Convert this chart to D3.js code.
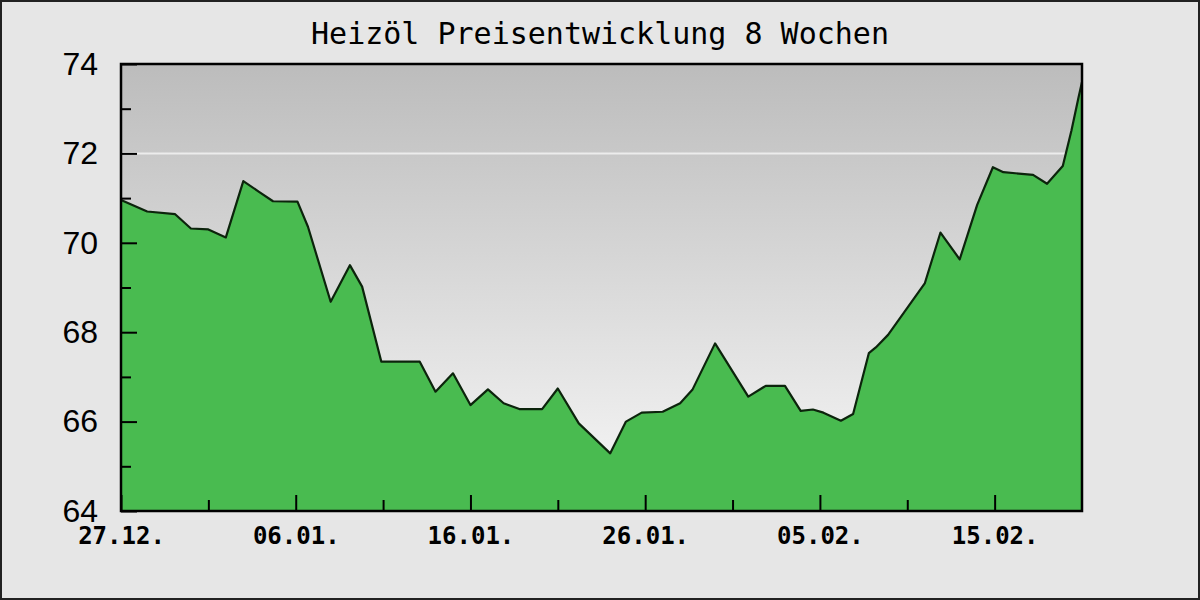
<!DOCTYPE html>
<html>
<head>
<meta charset="utf-8">
<script src="https://cdn.jsdelivr.net/npm/d3@7/dist/d3.min.js"></script>
<style>
    body { margin: 0; background: #e6e6e6; }
    svg { display: block; }
</style>
</head>
<body>
<div id="chart"></div>
<script>
// Days after 27.12. (x) and price in EUR/100 l (y)
const dayOffsets = [0, 1.5, 3.1, 4.0, 5.0, 6.0, 7.0, 7.9, 8.7, 10.1, 10.7, 12.0, 13.1, 13.8, 14.9,
    17.1, 18.0, 19.0, 20.0, 21.0, 21.9, 22.8, 24.1, 25.0, 26.2, 28.0, 28.9, 29.8, 31.0, 32.0,
    32.7, 34.0, 35.9, 36.9, 38.0, 38.9, 39.6, 40.2, 41.2, 41.9, 42.8, 43.2, 43.9, 46.0, 46.9,
    48.0, 49.0, 49.9, 50.5, 52.2, 53.0, 53.9, 54.4, 54.8, 55.0];
const prices = [70.96, 70.70, 70.64, 70.32, 70.30, 70.12, 71.38, 71.14, 70.93, 70.92, 70.36, 68.68, 69.50, 69.02, 67.34,
    67.34, 66.67, 67.08, 66.37, 66.72, 66.41, 66.28, 66.28, 66.74, 65.96, 65.29, 66.00, 66.20, 66.22, 66.41,
    66.71, 67.75, 66.56, 66.80, 66.80, 66.24, 66.27, 66.20, 66.02, 66.17, 67.53, 67.66, 67.94, 69.09, 70.23,
    69.63, 70.85, 71.69, 71.58, 71.52, 71.32, 71.72, 72.52, 73.25, 73.60];

// Axis ticks
const xMajorTicks = [0, 10, 20, 30, 40, 50];
const xTickLabels = ['27.12.', '06.01.', '16.01.', '26.01.', '05.02.', '15.02.'];
const xMinorTicks = [5, 15, 25, 35, 45];
const yMajorTicks = [64, 66, 68, 70, 72, 74];
const yMinorTicks = [65, 67, 69, 71, 73];
const gridValues = [72];

const title = 'Heizöl Preisentwicklung 8 Wochen';

/**
 * Price chart
 */
class PriceChart {
    constructor() {
        this.width = 1200;
        this.height = 600;
        this.plot = { left: 121, right: 1082, top: 64, bottom: 511 };
    }

    init() {
        const container = document.getElementById('chart');
        container.innerHTML = '';

        this.svg = d3.select(container)
            .append('svg')
            .attr('width', this.width)
            .attr('height', this.height);

        this.x = d3.scaleLinear().domain([0, 55]).range([this.plot.left, this.plot.right]);
        this.y = d3.scaleLinear().domain([64, 74]).range([this.plot.bottom, this.plot.top]);

        this.drawBackground();
        this.drawArea();
        this.drawAxes();
        this.drawTitle();
    }

    drawBackground() {
        const p = this.plot;

        // Outer frame
        this.svg.append('rect')
            .attr('x', 1).attr('y', 1)
            .attr('width', this.width - 2).attr('height', this.height - 2)
            .style('fill', '#e6e6e6')
            .style('stroke', '#222')
            .style('stroke-width', 2);

        // Gradient of plot area
        const grad = this.svg.append('defs')
            .append('linearGradient')
            .attr('id', 'plot-bg')
            .attr('x1', 0).attr('y1', 0).attr('x2', 0).attr('y2', 1);
        grad.append('stop').attr('offset', '0%').attr('stop-color', '#bcbcbc');
        grad.append('stop').attr('offset', '100%').attr('stop-color', '#f8f8f8');

        this.svg.append('rect')
            .attr('x', p.left).attr('y', p.top)
            .attr('width', p.right - p.left).attr('height', p.bottom - p.top)
            .style('fill', 'url(#plot-bg)');

        // Grid line
        this.svg.append('g')
            .selectAll('line')
            .data(gridValues)
            .enter()
            .append('line')
            .attr('x1', p.left).attr('x2', p.right)
            .attr('y1', d => this.y(d)).attr('y2', d => this.y(d))
            .style('stroke', '#ececec')
            .style('stroke-width', 2);
    }

    drawArea() {
        const data = dayOffsets.map((d, i) => ({ day: d, price: prices[i] }));

        const area = d3.area()
            .x(d => this.x(d.day))
            .y0(this.y(64))
            .y1(d => this.y(d.price));

        const line = d3.line()
            .x(d => this.x(d.day))
            .y(d => this.y(d.price));

        this.svg.append('path')
            .datum(data)
            .attr('d', area)
            .style('fill', '#49bb50');

        this.svg.append('path')
            .datum(data)
            .attr('d', line)
            .style('fill', 'none')
            .style('stroke', '#0c240c')
            .style('stroke-width', 2.2)
            .style('stroke-linejoin', 'round');
    }

    drawAxes() {
        const p = this.plot;

        // Y axis, major ticks with labels
        const yMajor = this.svg.append('g')
            .attr('transform', `translate(${p.left},0)`)
            .call(d3.axisLeft(this.y).tickValues(yMajorTicks).tickSizeInner(-16).tickSizeOuter(0).tickPadding(23));

        // Y axis, minor ticks
        const yMinor = this.svg.append('g')
            .attr('transform', `translate(${p.left},0)`)
            .call(d3.axisLeft(this.y).tickValues(yMinorTicks).tickSizeInner(-10).tickSizeOuter(0).tickFormat(''));

        // X axis, major ticks with labels
        const xMajor = this.svg.append('g')
            .attr('transform', `translate(0,${p.bottom})`)
            .call(d3.axisBottom(this.x).tickValues(xMajorTicks).tickSizeInner(-16).tickSizeOuter(0).tickPadding(16)
                .tickFormat((d, i) => xTickLabels[i]));

        // X axis, minor ticks
        const xMinor = this.svg.append('g')
            .attr('transform', `translate(0,${p.bottom})`)
            .call(d3.axisBottom(this.x).tickValues(xMinorTicks).tickSizeInner(-11).tickSizeOuter(0).tickFormat(''));

        [yMajor, yMinor, xMajor, xMinor].forEach(g => {
            g.select('.domain').remove();
            g.selectAll('.tick line').style('stroke', '#000').style('stroke-width', 2);
        });

        yMajor.selectAll('text')
            .style('font-family', '"Liberation Sans", Arial, sans-serif')
            .style('font-size', '32px')
            .style('fill', '#000');

        xMajor.selectAll('text')
            .style('font-family', '"DejaVu Sans Mono", monospace')
            .style('font-weight', 'bold')
            .style('font-size', '24px')
            .style('fill', '#000');

        // Plot frame
        this.svg.append('rect')
            .attr('x', p.left).attr('y', p.top)
            .attr('width', p.right - p.left).attr('height', p.bottom - p.top)
            .style('fill', 'none')
            .style('stroke', '#000')
            .style('stroke-width', 2.5);
    }

    drawTitle() {
        this.svg.append('text')
            .attr('x', 600)
            .attr('y', 44)
            .attr('text-anchor', 'middle')
            .style('font-family', '"DejaVu Sans Mono", monospace')
            .style('font-size', '30px')
            .style('fill', '#000')
            .text(title);
    }
}

const chart = new PriceChart();
chart.init();
</script>
</body>
</html>
